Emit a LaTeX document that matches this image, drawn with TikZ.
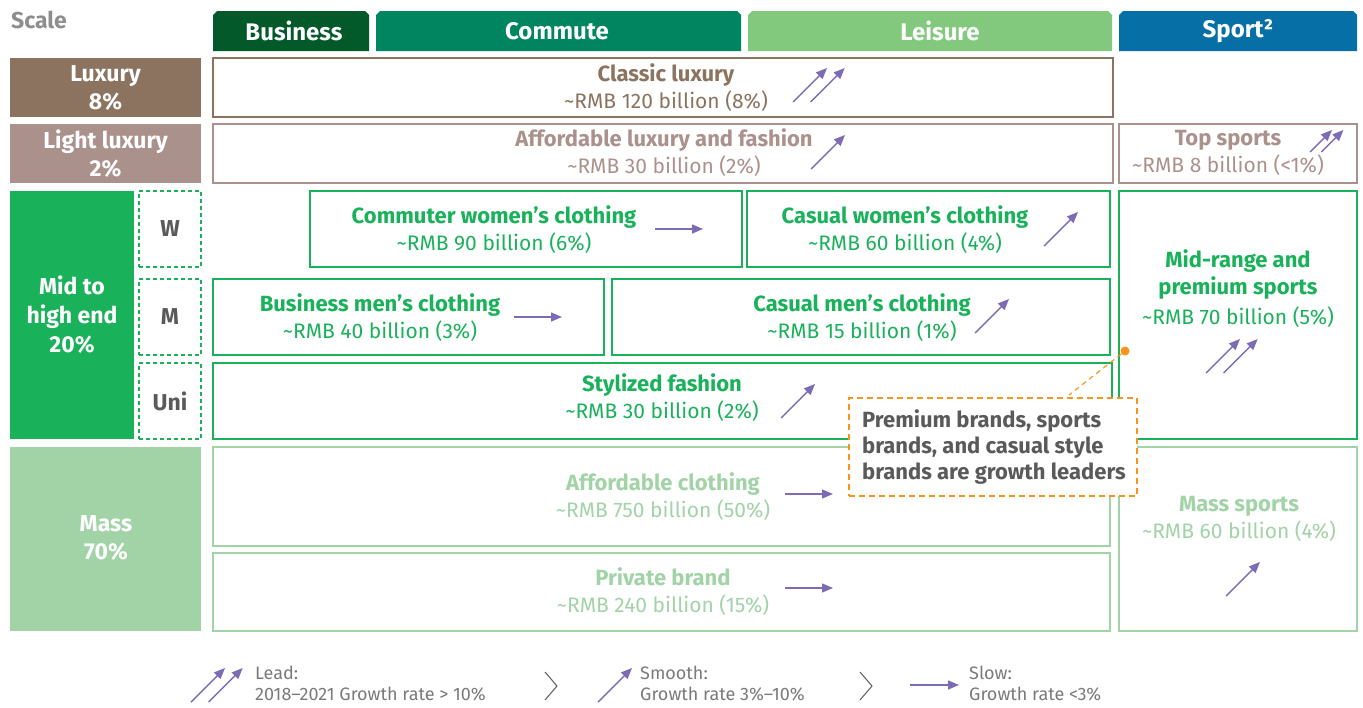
\documentclass[tikz,border=0pt]{standalone}
\usepackage{fontspec}
\setmainfont{Fira Sans}
\usetikzlibrary{arrows.meta,fit,calc}

\definecolor{luxc}{HTML}{8B735F}
\definecolor{lightluxc}{HTML}{AB918C}
\definecolor{midc}{HTML}{19B15A}
\definecolor{massc}{HTML}{A1D3A7}
\definecolor{busc}{HTML}{03592A}
\definecolor{comc}{HTML}{008561}
\definecolor{leic}{HTML}{83C97D}
\definecolor{sportc}{HTML}{0670A6}
\definecolor{arrowc}{HTML}{7E6BB6}
\definecolor{notec}{HTML}{F7941D}
\definecolor{darkgrayc}{HTML}{5A5A5A}
\definecolor{scalec}{HTML}{8E8E8E}
\definecolor{legendc}{HTML}{7A7A7A}

\newcommand\segtitle[1]{{\fontsize{22}{27}\selectfont\bfseries #1}}

\tikzset{
  segbox/.style={inner sep=0pt, line width=1.5pt, draw=#1},
  tierbox/.style={inner sep=0pt, fill=#1},
  genderbox/.style={inner sep=0pt, line width=1.2pt, draw=midc, dash pattern=on 4pt off 3pt},
  gendertext/.style={inner sep=0pt, text=darkgrayc, font=\bfseries\fontsize{23}{26}\selectfont},
  tabtext/.style={inner sep=0pt, text=white, font=\bfseries\fontsize{24}{28}\selectfont},
  tiertext/.style={inner sep=0pt, align=center, text=white, font=\bfseries\fontsize{23}{28}\selectfont},
  segtext/.style={inner sep=0pt, align=center, text=#1, font=\fontsize{21}{27}\selectfont},
  growarrow/.style={draw=arrowc, line width=1.4pt, -{Triangle[length=11pt,width=9pt]}},
  legendtext/.style={inner sep=0pt, anchor=west, align=left, text=legendc, font=\fontsize{18}{21}\selectfont},
  pics/leadup/.style={code={
    \draw[growarrow] (0,0) -- (#1,-#1);
    \draw[growarrow] (0.52*#1,0) -- (1.52*#1,-#1);}},
  pics/smoothup/.style={code={\draw[growarrow] (0,0) -- (#1,-#1);}},
  pics/slowright/.style={code={\draw[growarrow] (0,0) -- (#1,0);}},
}

% header tab with chamfered top corners
\newcommand\headtab[6]{%
  \fill[#3] (#1,51) -- (#1,15) -- ($(#1,11)+(4,0)$) -- ($(#2,11)+(-4,0)$) -- (#2,15) -- (#2,51) -- cycle;
  \node[tabtext] (#4) at (#5,31) {#6};}

\begin{document}
\begin{tikzpicture}[x=1pt,y=-1pt]
\useasboundingbox (0,0) rectangle (1363,707);

% title of the vertical axis
\node[inner sep=0pt, text=scalec, font=\bfseries\fontsize{23}{26}\selectfont] (scale) at (39,20) {Scale};

% occasion tabs
\headtab{213}{369}{busc}{tbus}{294}{Business}
\headtab{376}{741}{comc}{tcom}{557}{Commute}
\headtab{748}{1112}{leic}{tlei}{940}{Leisure}
\headtab{1119}{1357}{sportc}{tspo}{1238}{Sport²}

% price tiers
\node[tierbox=luxc, fit={(10,58) (201,117)}] (lux) {};
\node[tiertext] at (lux.center) {Luxury\\8\%};
\node[tierbox=lightluxc, fit={(10,124) (201,183)}] (llux) {};
\node[tiertext] at (llux.center) {Light luxury\\2\%};
\node[tierbox=midc, fit={(10,191) (134,439)}] (mid) {};
\node[tiertext, font=\bfseries\fontsize{23}{29}\selectfont] at (mid.center) {Mid to\\high end\\20\%};
\node[tierbox=massc, fit={(10,447) (201,631)}] (mass) {};
\node[tiertext] at (106,538) {Mass\\70\%};

% gender split
\node[genderbox, fit={(139,191) (201,267)}] (gw) {};
\node[gendertext] at (gw.center) {W};
\node[genderbox, fit={(139,279) (201,355)}] (gm) {};
\node[gendertext] at (gm.center) {M};
\node[genderbox, fit={(139,363) (201,439)}] (gu) {};
\node[gendertext] at (gu.center) {Uni};

% luxury segments
\node[segbox=luxc, fit={(213,58) (1113,117)}] (classic) {};
\node[segtext=luxc] at (666,88) {\segtitle{Classic luxury}\\\textasciitilde RMB 120 billion (8\%)};
\pic at (793,102) {leadup=34};

\node[segbox=lightluxc, fit={(213,124) (1113,183)}] (afflux) {};
\node[segtext=lightluxc] at (664,153) {\segtitle{Affordable luxury and fashion}\\\textasciitilde RMB 30 billion (2\%)};
\pic at (811,169) {smoothup=34};

\node[segbox=lightluxc, fit={(1119,124) (1357,183)}] (topsp) {};
\node[segtext=lightluxc] at (1228,153) {\segtitle{Top sports}\\\textasciitilde RMB 8 billion (<1\%)};
\pic at (1310,152) {leadup=22};

% mid to high end segments
\node[segbox=midc, fit={(310,191) (742,267)}] (comw) {};
\node[segtext=midc] at (494,230) {\segtitle{Commuter women’s clothing}\\\textasciitilde RMB 90 billion (6\%)};
\pic at (655,229) {slowright=48};

\node[segbox=midc, fit={(747,191) (1110,267)}] (casw) {};
\node[segtext=midc] at (905,230) {\segtitle{Casual women’s clothing}\\\textasciitilde RMB 60 billion (4\%)};
\pic at (1044,246) {smoothup=34};

\node[segbox=midc, fit={(213,279) (604,355)}] (busm) {};
\node[segtext=midc] at (380,318) {\segtitle{Business men’s clothing}\\\textasciitilde RMB 40 billion (3\%)};
\pic at (514,317) {slowright=48};

\node[segbox=midc, fit={(612,279) (1110,355)}] (casm) {};
\node[segtext=midc] at (862,318) {\segtitle{Casual men’s clothing}\\\textasciitilde RMB 15 billion (1\%)};
\pic at (975,333) {smoothup=34};

\node[segbox=midc, fit={(213,363) (1112,439)}] (styl) {};
\node[segtext=midc] at (662,398) {\segtitle{Stylized fashion}\\\textasciitilde RMB 30 billion (2\%)};
\pic at (781,418) {smoothup=34};

\node[segbox=midc, fit={(1119,191) (1357,439)}] (midsp) {};
\node[segtext=midc] at (1238,289) {\segtitle{Mid-range and}\\\segtitle{premium sports}\\[3pt]\textasciitilde RMB 70 billion (5\%)};
\pic at (1206,373) {leadup=34};

% mass segments
\node[segbox=massc, fit={(213,447) (1110,546)}] (affc) {};
\node[segtext=massc] at (663,497) {\segtitle{Affordable clothing}\\\textasciitilde RMB 750 billion (50\%)};
\pic at (785,494) {slowright=48};

\node[segbox=massc, fit={(213,553) (1110,631)}] (priv) {};
\node[segtext=massc] at (663,592) {\segtitle{Private brand}\\\textasciitilde RMB 240 billion (15\%)};
\pic at (785,588) {slowright=48};

\node[segbox=massc, fit={(1119,447) (1357,631)}] (masssp) {};
\node[segtext=massc] at (1239,519) {\segtitle{Mass sports}\\\textasciitilde RMB 60 billion (4\%)};
\pic at (1226,596) {smoothup=34};

% callout on the growth leaders
\node[circle, fill=notec, inner sep=0pt, minimum size=9pt] (dot) at (1125,351) {};
\coordinate (noteend) at (1069,395);
\draw[notec, line width=1.2pt, dash pattern=on 5pt off 4pt] (dot) -- (noteend);
\node[fit={(849,398) (1137,496)}, inner sep=0pt, fill=white, draw=notec, line width=1.5pt, dash pattern=on 6pt off 4pt] (note) {};
\node[inner sep=0pt, anchor=west, align=left, text=darkgrayc, font=\bfseries\fontsize{22}{26}\selectfont] at (862,447)
  {Premium brands, sports\\brands, and casual style\\brands are growth leaders};

% legend
\pic at (191,702) {leadup=34};
\node[legendtext] (lglead) at (255,684) {Lead:\\2018--2021 Growth rate > 10\%};
\coordinate (chev1) at (545,686);
\draw[darkgrayc, line width=1pt] ($(chev1)+(0,-14)$) -- ($(chev1)+(12,0)$) -- ($(chev1)+(0,14)$);
\pic at (598,702) {smoothup=34};
\node[legendtext] (lgsmooth) at (640,684) {Smooth:\\Growth rate 3\%--10\%};
\coordinate (chev2) at (860,686);
\draw[darkgrayc, line width=1pt] ($(chev2)+(0,-14)$) -- ($(chev2)+(12,0)$) -- ($(chev2)+(0,14)$);
\pic at (910,685) {slowright=49};
\node[legendtext] (lgslow) at (969,684) {Slow:\\Growth rate <3\%};
\end{tikzpicture}
\end{document}
